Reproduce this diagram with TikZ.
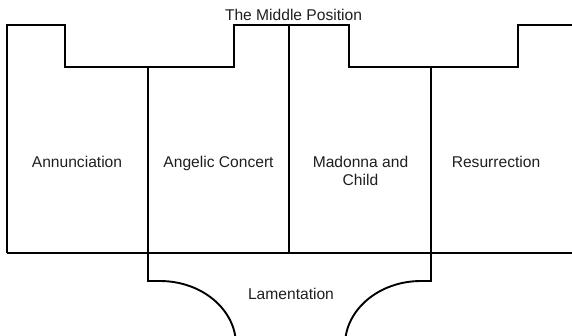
\documentclass[tikz,border=0pt]{standalone}
\usepackage{fontspec}
\setmainfont{Liberation Sans}
\begin{document}
\begin{tikzpicture}[x=1pt,y=-1pt,
  wall/.style={line width=1.9pt,black,line join=miter},
  lbl/.style={inner sep=0pt,anchor=base,text=black!88,font=\fontsize{15.6}{18.5}\selectfont,align=center}]
\useasboundingbox (0,0) rectangle (572,335);
\clip (0,0) rectangle (572,335);
% outline of the altarpiece
\draw[wall] (7,253) -- (7,25) -- (65,25) -- (65,67) -- (234,67) -- (234,25)
  -- (349,25) -- (349,67) -- (518,67) -- (518,25) -- (580,25);
\draw[wall] (7,253) -- (580,253);
\draw[wall] (289,25) -- (289,253);
\draw[wall] (148,67) -- (148,281) -- (160,281) arc[start angle=-90,end angle=0,x radius=76,y radius=64];
\draw[wall] (431,67) -- (431,281) -- (421,281) arc[start angle=-90,end angle=-180,x radius=76,y radius=64];
% labels
\node[lbl] (mid) at (293.5,20) {The Middle Position};
\node[lbl] (ann) at (77,167) {Annunciation};
\node[lbl] (ang) at (218.5,167) {Angelic Concert};
\node[lbl] (mad) at (360.5,185.5) {Madonna and\\Child};
\node[lbl] (res) at (496,167) {Resurrection};
\node[lbl] (lam) at (291,299) {Lamentation};
\end{tikzpicture}
\end{document}
